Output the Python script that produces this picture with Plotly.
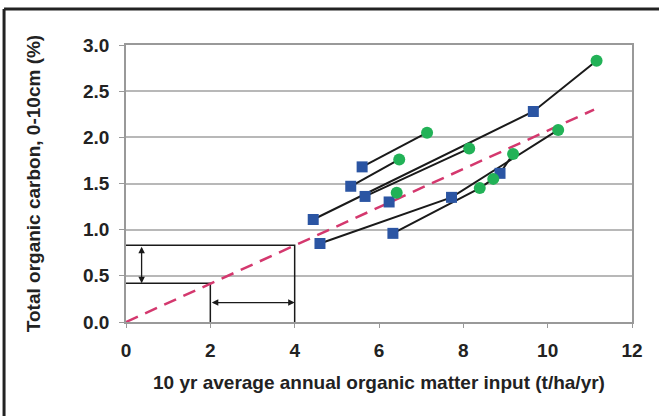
import plotly.graph_objects as go

# Connected site lines (square = start, circle = end)
line1_x = [5.60, 7.14];  line1_y = [1.68, 2.05]
line2_x = [5.33, 6.48];  line2_y = [1.47, 1.76]
line3_x = [5.67, 8.14];  line3_y = [1.36, 1.88]
line4_x = [4.44, 9.66, 11.16];  line4_y = [1.11, 2.28, 2.83]
line5_x = [6.24, 6.42];  line5_y = [1.30, 1.40]
line6_x = [4.60, 7.72, 10.25];  line6_y = [0.85, 1.35, 2.08]
line7_x = [6.33, 8.39, 8.71, 8.87, 9.18];  line7_y = [0.96, 1.45, 1.55, 1.61, 1.82]

square_x = [5.60, 5.33, 5.67, 4.44, 9.66, 6.24, 4.60, 7.72, 6.33, 8.87]
square_y = [1.68, 1.47, 1.36, 1.11, 2.28, 1.30, 0.85, 1.35, 0.96, 1.61]
circle_x = [7.14, 6.48, 8.14, 11.16, 6.42, 10.25, 8.39, 8.71, 9.18]
circle_y = [2.05, 1.76, 1.88, 2.83, 1.40, 2.08, 1.45, 1.55, 1.82]

ref_x = [0, 11.1]
ref_y = [0, 2.30]

big_box_x = [0, 4, 4];  big_box_y = [0.83, 0.83, 0]
small_box_x = [0, 2, 2];  small_box_y = [0.42, 0.42, 0]

x_ticks = [0, 2, 4, 6, 8, 10, 12]
y_ticks = [0.0, 0.5, 1.0, 1.5, 2.0, 2.5, 3.0]
y_tick_labels = ["0.0", "0.5", "1.0", "1.5", "2.0", "2.5", "3.0"]

fig = go.Figure()

for lx, ly in [(line1_x, line1_y), (line2_x, line2_y), (line3_x, line3_y),
               (line4_x, line4_y), (line5_x, line5_y), (line6_x, line6_y),
               (line7_x, line7_y)]:
    fig.add_trace(go.Scatter(x=lx, y=ly, mode="lines",
                             line=dict(color="#1a1a1a", width=2),
                             showlegend=False, hoverinfo="skip"))

for bx, by in [(big_box_x, big_box_y), (small_box_x, small_box_y)]:
    fig.add_trace(go.Scatter(x=bx, y=by, mode="lines",
                             line=dict(color="#1a1a1a", width=1.5),
                             showlegend=False, hoverinfo="skip"))

fig.add_trace(go.Scatter(x=ref_x, y=ref_y, mode="lines",
                         line=dict(color="#d4386e", width=2.5, dash="13px,8px"),
                         showlegend=False))

fig.add_trace(go.Scatter(x=square_x, y=square_y, mode="markers",
                         marker=dict(symbol="square", size=11, color="#2b55a3"),
                         showlegend=False))
fig.add_trace(go.Scatter(x=circle_x, y=circle_y, mode="markers",
                         marker=dict(symbol="circle", size=12, color="#22b257"),
                         showlegend=False))

# double-headed arrows
fig.add_annotation(x=0.37, y=0.42, ax=0.37, ay=0.83, xref="x", yref="y",
                   axref="x", ayref="y", text="", showarrow=True,
                   arrowhead=2, arrowside="end+start", arrowsize=1,
                   arrowwidth=1.3, arrowcolor="#1a1a1a")
fig.add_annotation(x=4, y=0.21, ax=2, ay=0.21, xref="x", yref="y",
                   axref="x", ayref="y", text="", showarrow=True,
                   arrowhead=2, arrowside="end+start", arrowsize=1,
                   arrowwidth=1.3, arrowcolor="#1a1a1a")

# outer frame (top and left)
fig.add_shape(type="line", xref="paper", yref="paper",
              x0=-0.241, y0=1.13, x1=1.2, y1=1.13,
              line=dict(color="#222222", width=3))
fig.add_shape(type="line", xref="paper", yref="paper",
              x0=-0.241, y0=1.13, x1=-0.241, y1=-0.5,
              line=dict(color="#222222", width=3))

font_family = "Liberation Sans, Arial, sans-serif"

fig.update_layout(
    width=659, height=416,
    margin=dict(l=126, r=27, t=45, b=94),
    paper_bgcolor="white", plot_bgcolor="white",
    font=dict(family=font_family, color="#222222"),
    xaxis=dict(range=[0, 12], tickvals=x_ticks,
               ticks="outside", ticklen=4, tickcolor="#999999",
               ticklabelstandoff=6,
               showline=True, linecolor="#999999", linewidth=1.5, mirror=True,
               showgrid=False, zeroline=False,
               tickfont=dict(size=19, family=font_family, weight="bold"),
               title=dict(text="10 yr average annual organic matter input (t/ha/yr)",
                          font=dict(size=19, family=font_family, weight="bold"),
                          standoff=16)),
    yaxis=dict(range=[0, 3.0], tickvals=y_ticks, ticktext=y_tick_labels,
               ticks="outside", ticklen=5, tickcolor="#999999",
               ticklabelstandoff=6,
               showline=True, linecolor="#999999", linewidth=1.5, mirror=True,
               showgrid=True, gridcolor="#b8b8b8", gridwidth=1.5,
               zeroline=False,
               tickfont=dict(size=19, family=font_family, weight="bold"),
               title=dict(text="Total organic carbon, 0-10cm (%)",
                          font=dict(size=19, family=font_family, weight="bold"),
                          standoff=37)),
)

fig.write_html("out.html", config={"displayModeBar": False},
               post_script="document.body.style.margin='0';document.body.style.overflow='hidden';")
